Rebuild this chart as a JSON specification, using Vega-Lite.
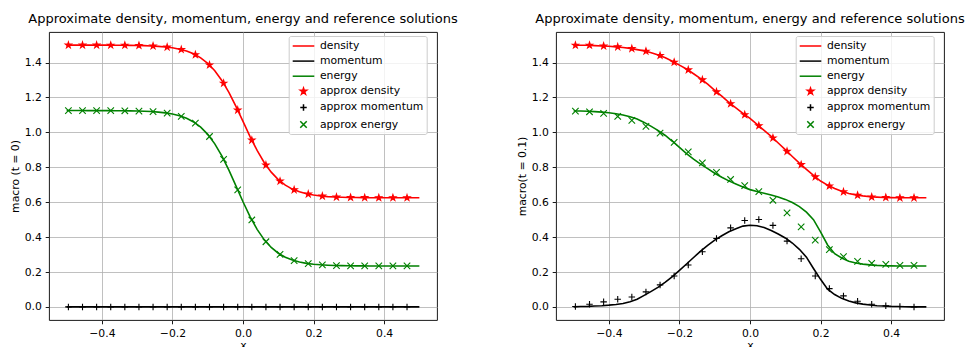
{
  "$schema": "https://vega.github.io/schema/vega-lite/v6.json",
  "background": "white",
  "padding": {"left": 8, "top": 12, "right": 0, "bottom": 0},
  "config": {
    "font": "DejaVu Sans",
    "view": {"stroke": "#000000", "strokeWidth": 0.9},
    "axis": {"grid": true, "gridColor": "#b0b0b0", "gridWidth": 0.8, "domain": false, "tickColor": "#000000", "tickSize": 3.8, "tickWidth": 0.9, "labelFontSize": 10.8, "labelColor": "#000000", "labelPadding": 3.8, "labelFont": "DejaVu Sans", "titleFont": "DejaVu Sans", "titleFontSize": 10.8, "titleFontWeight": "normal", "titleColor": "#000000"},
    "axisX": {"titlePadding": 1.5},
    "axisY": {"titlePadding": 4},
    "title": {"font": "DejaVu Sans", "fontSize": 13, "fontWeight": "normal", "color": "#000000", "baseline": "alphabetic", "offset": 6.5, "anchor": "middle"},
    "legend": {"orient": "none", "legendX": 239.7, "legendY": 4, "title": null, "labelFont": "DejaVu Sans", "labelFontSize": 10.8, "labelColor": "#000000", "symbolSize": 144, "symbolStrokeWidth": 1.5, "fillColor": "rgba(255,255,255,0.8)", "strokeColor": "#cccccc", "cornerRadius": 2, "padding": 3, "rowPadding": 3.1, "symbolOffset": 4.8, "labelOffset": 9.4}
  },
  "datasets": {
    "lines0": [
      {"x": -0.5, "density": 1.5, "momentum": 0, "energy": 1.125},
      {"x": -0.48, "density": 1.5, "momentum": 0, "energy": 1.125},
      {"x": -0.46, "density": 1.5, "momentum": 0, "energy": 1.125},
      {"x": -0.44, "density": 1.5, "momentum": 0, "energy": 1.1248},
      {"x": -0.42, "density": 1.4999, "momentum": 0, "energy": 1.1247},
      {"x": -0.4, "density": 1.4997, "momentum": 0, "energy": 1.1247},
      {"x": -0.38, "density": 1.4996, "momentum": 0, "energy": 1.1245},
      {"x": -0.36, "density": 1.4993, "momentum": 0, "energy": 1.1242},
      {"x": -0.34, "density": 1.499, "momentum": 0, "energy": 1.1239},
      {"x": -0.32, "density": 1.4986, "momentum": 0, "energy": 1.1233},
      {"x": -0.3, "density": 1.4979, "momentum": 0, "energy": 1.1224},
      {"x": -0.28, "density": 1.4968, "momentum": 0, "energy": 1.1211},
      {"x": -0.26, "density": 1.4952, "momentum": 0, "energy": 1.1191},
      {"x": -0.24, "density": 1.4929, "momentum": 0, "energy": 1.1161},
      {"x": -0.22, "density": 1.4894, "momentum": 0, "energy": 1.1116},
      {"x": -0.2, "density": 1.4843, "momentum": 0, "energy": 1.105},
      {"x": -0.18, "density": 1.4767, "momentum": 0, "energy": 1.0951},
      {"x": -0.16, "density": 1.4657, "momentum": 0, "energy": 1.0807},
      {"x": -0.14, "density": 1.4499, "momentum": 0, "energy": 1.0596},
      {"x": -0.12, "density": 1.4272, "momentum": 0, "energy": 1.0299},
      {"x": -0.1, "density": 1.3957, "momentum": 0, "energy": 0.9888},
      {"x": -0.08, "density": 1.353, "momentum": 0, "energy": 0.934},
      {"x": -0.06, "density": 1.2974, "momentum": 0, "energy": 0.8649},
      {"x": -0.04, "density": 1.2287, "momentum": 0, "energy": 0.7833},
      {"x": -0.02, "density": 1.1489, "momentum": 0, "energy": 0.6935},
      {"x": 0, "density": 1.0625, "momentum": 0, "energy": 0.6026},
      {"x": 0.02, "density": 0.9761, "momentum": 0, "energy": 0.5178},
      {"x": 0.04, "density": 0.8963, "momentum": 0, "energy": 0.4444},
      {"x": 0.06, "density": 0.8276, "momentum": 0, "energy": 0.3855},
      {"x": 0.08, "density": 0.772, "momentum": 0, "energy": 0.3406},
      {"x": 0.1, "density": 0.7293, "momentum": 0, "energy": 0.3076},
      {"x": 0.12, "density": 0.6978, "momentum": 0, "energy": 0.2843},
      {"x": 0.14, "density": 0.6751, "momentum": 0, "energy": 0.2682},
      {"x": 0.16, "density": 0.6593, "momentum": 0, "energy": 0.257},
      {"x": 0.18, "density": 0.6483, "momentum": 0, "energy": 0.2494},
      {"x": 0.2, "density": 0.6407, "momentum": 0, "energy": 0.2444},
      {"x": 0.22, "density": 0.6356, "momentum": 0, "energy": 0.2411},
      {"x": 0.24, "density": 0.6321, "momentum": 0, "energy": 0.2389},
      {"x": 0.26, "density": 0.6298, "momentum": 0, "energy": 0.2374},
      {"x": 0.28, "density": 0.6282, "momentum": 0, "energy": 0.2364},
      {"x": 0.3, "density": 0.6271, "momentum": 0, "energy": 0.2357},
      {"x": 0.32, "density": 0.6264, "momentum": 0, "energy": 0.2353},
      {"x": 0.34, "density": 0.626, "momentum": 0, "energy": 0.235},
      {"x": 0.36, "density": 0.6257, "momentum": 0, "energy": 0.2348},
      {"x": 0.38, "density": 0.6254, "momentum": 0, "energy": 0.2347},
      {"x": 0.4, "density": 0.6253, "momentum": 0, "energy": 0.2347},
      {"x": 0.42, "density": 0.6251, "momentum": 0, "energy": 0.2347},
      {"x": 0.44, "density": 0.625, "momentum": 0, "energy": 0.2347},
      {"x": 0.46, "density": 0.625, "momentum": 0, "energy": 0.2347},
      {"x": 0.48, "density": 0.625, "momentum": 0, "energy": 0.2347},
      {"x": 0.5, "density": 0.625, "momentum": 0, "energy": 0.2347}
    ],
    "points0": [
      {"x": -0.495, "approx density": 1.5, "approx momentum": 0, "approx energy": 1.125},
      {"x": -0.455, "approx density": 1.4999, "approx momentum": 0, "approx energy": 1.1249},
      {"x": -0.415, "approx density": 1.4998, "approx momentum": 0, "approx energy": 1.1247},
      {"x": -0.375, "approx density": 1.4995, "approx momentum": 0, "approx energy": 1.1244},
      {"x": -0.335, "approx density": 1.4989, "approx momentum": 0, "approx energy": 1.1237},
      {"x": -0.295, "approx density": 1.4976, "approx momentum": 0, "approx energy": 1.1222},
      {"x": -0.255, "approx density": 1.4947, "approx momentum": 0, "approx energy": 1.1185},
      {"x": -0.215, "approx density": 1.4883, "approx momentum": 0, "approx energy": 1.1103},
      {"x": -0.175, "approx density": 1.4744, "approx momentum": 0, "approx energy": 1.0921},
      {"x": -0.135, "approx density": 1.4449, "approx momentum": 0, "approx energy": 1.0529},
      {"x": -0.095, "approx density": 1.3862, "approx momentum": 0, "approx energy": 0.9763},
      {"x": -0.055, "approx density": 1.2815, "approx momentum": 0, "approx energy": 0.8458},
      {"x": -0.015, "approx density": 1.1276, "approx momentum": 0, "approx energy": 0.6703},
      {"x": 0.025, "approx density": 0.9554, "approx momentum": 0, "approx energy": 0.498},
      {"x": 0.065, "approx density": 0.8124, "approx momentum": 0, "approx energy": 0.3733},
      {"x": 0.105, "approx density": 0.7205, "approx momentum": 0, "approx energy": 0.3012},
      {"x": 0.145, "approx density": 0.6707, "approx momentum": 0, "approx energy": 0.2647},
      {"x": 0.185, "approx density": 0.6461, "approx momentum": 0, "approx energy": 0.2482},
      {"x": 0.225, "approx density": 0.6346, "approx momentum": 0, "approx energy": 0.2406},
      {"x": 0.265, "approx density": 0.6293, "approx momentum": 0, "approx energy": 0.2371},
      {"x": 0.305, "approx density": 0.627, "approx momentum": 0, "approx energy": 0.2356},
      {"x": 0.345, "approx density": 0.6259, "approx momentum": 0, "approx energy": 0.235},
      {"x": 0.385, "approx density": 0.6254, "approx momentum": 0, "approx energy": 0.2348},
      {"x": 0.425, "approx density": 0.6252, "approx momentum": 0, "approx energy": 0.2347},
      {"x": 0.465, "approx density": 0.6251, "approx momentum": 0, "approx energy": 0.2347}
    ],
    "lines1": [
      {"x": -0.5, "density": 1.5, "momentum": 0, "energy": 1.122},
      {"x": -0.48, "density": 1.499, "momentum": 0.002, "energy": 1.122},
      {"x": -0.46, "density": 1.499, "momentum": 0.003, "energy": 1.121},
      {"x": -0.44, "density": 1.497, "momentum": 0.005, "energy": 1.119},
      {"x": -0.42, "density": 1.495, "momentum": 0.007, "energy": 1.116},
      {"x": -0.4, "density": 1.493, "momentum": 0.01, "energy": 1.112},
      {"x": -0.38, "density": 1.49, "momentum": 0.014, "energy": 1.107},
      {"x": -0.36, "density": 1.486, "momentum": 0.02, "energy": 1.099},
      {"x": -0.34, "density": 1.481, "momentum": 0.03, "energy": 1.089},
      {"x": -0.32, "density": 1.474, "momentum": 0.044, "energy": 1.076},
      {"x": -0.3, "density": 1.467, "momentum": 0.066, "energy": 1.057},
      {"x": -0.28, "density": 1.456, "momentum": 0.089, "energy": 1.034},
      {"x": -0.26, "density": 1.443, "momentum": 0.113, "energy": 1.01},
      {"x": -0.24, "density": 1.427, "momentum": 0.142, "energy": 0.982},
      {"x": -0.22, "density": 1.407, "momentum": 0.173, "energy": 0.949},
      {"x": -0.2, "density": 1.385, "momentum": 0.209, "energy": 0.914},
      {"x": -0.18, "density": 1.363, "momentum": 0.246, "energy": 0.878},
      {"x": -0.16, "density": 1.336, "momentum": 0.283, "energy": 0.847},
      {"x": -0.14, "density": 1.308, "momentum": 0.319, "energy": 0.818},
      {"x": -0.12, "density": 1.276, "momentum": 0.352, "energy": 0.792},
      {"x": -0.1, "density": 1.241, "momentum": 0.383, "energy": 0.766},
      {"x": -0.08, "density": 1.207, "momentum": 0.408, "energy": 0.743},
      {"x": -0.06, "density": 1.172, "momentum": 0.431, "energy": 0.722},
      {"x": -0.04, "density": 1.14, "momentum": 0.448, "energy": 0.704},
      {"x": -0.02, "density": 1.109, "momentum": 0.463, "energy": 0.687},
      {"x": 0, "density": 1.08, "momentum": 0.468, "energy": 0.672},
      {"x": 0.02, "density": 1.046, "momentum": 0.465, "energy": 0.661},
      {"x": 0.04, "density": 1.012, "momentum": 0.455, "energy": 0.651},
      {"x": 0.06, "density": 0.977, "momentum": 0.438, "energy": 0.641},
      {"x": 0.08, "density": 0.939, "momentum": 0.418, "energy": 0.63},
      {"x": 0.1, "density": 0.901, "momentum": 0.395, "energy": 0.616},
      {"x": 0.12, "density": 0.862, "momentum": 0.366, "energy": 0.598},
      {"x": 0.14, "density": 0.824, "momentum": 0.33, "energy": 0.575},
      {"x": 0.16, "density": 0.788, "momentum": 0.285, "energy": 0.543},
      {"x": 0.18, "density": 0.753, "momentum": 0.22, "energy": 0.5},
      {"x": 0.2, "density": 0.721, "momentum": 0.158, "energy": 0.43},
      {"x": 0.22, "density": 0.698, "momentum": 0.102, "energy": 0.355},
      {"x": 0.24, "density": 0.678, "momentum": 0.071, "energy": 0.305},
      {"x": 0.26, "density": 0.662, "momentum": 0.049, "energy": 0.28},
      {"x": 0.28, "density": 0.65, "momentum": 0.034, "energy": 0.262},
      {"x": 0.3, "density": 0.642, "momentum": 0.023, "energy": 0.252},
      {"x": 0.32, "density": 0.636, "momentum": 0.016, "energy": 0.245},
      {"x": 0.34, "density": 0.631, "momentum": 0.011, "energy": 0.241},
      {"x": 0.36, "density": 0.629, "momentum": 0.007, "energy": 0.238},
      {"x": 0.38, "density": 0.627, "momentum": 0.005, "energy": 0.236},
      {"x": 0.4, "density": 0.626, "momentum": 0.003, "energy": 0.235},
      {"x": 0.42, "density": 0.625, "momentum": 0.002, "energy": 0.234},
      {"x": 0.44, "density": 0.625, "momentum": 0.001, "energy": 0.234},
      {"x": 0.46, "density": 0.625, "momentum": 0, "energy": 0.234},
      {"x": 0.48, "density": 0.625, "momentum": 0, "energy": 0.234},
      {"x": 0.5, "density": 0.625, "momentum": 0, "energy": 0.234}
    ],
    "points1": [
      {"x": -0.495, "approx density": 1.499, "approx momentum": 0.002, "approx energy": 1.122},
      {"x": -0.455, "approx density": 1.499, "approx momentum": 0.015, "approx energy": 1.118},
      {"x": -0.415, "approx density": 1.495, "approx momentum": 0.029, "approx energy": 1.109},
      {"x": -0.375, "approx density": 1.49, "approx momentum": 0.044, "approx energy": 1.091},
      {"x": -0.335, "approx density": 1.48, "approx momentum": 0.057, "approx energy": 1.069},
      {"x": -0.295, "approx density": 1.465, "approx momentum": 0.086, "approx energy": 1.034},
      {"x": -0.255, "approx density": 1.44, "approx momentum": 0.126, "approx energy": 0.996},
      {"x": -0.215, "approx density": 1.402, "approx momentum": 0.177, "approx energy": 0.943},
      {"x": -0.175, "approx density": 1.358, "approx momentum": 0.24, "approx energy": 0.888},
      {"x": -0.135, "approx density": 1.301, "approx momentum": 0.316, "approx energy": 0.825},
      {"x": -0.095, "approx density": 1.232, "approx momentum": 0.392, "approx energy": 0.771},
      {"x": -0.055, "approx density": 1.164, "approx momentum": 0.453, "approx energy": 0.73},
      {"x": -0.015, "approx density": 1.101, "approx momentum": 0.495, "approx energy": 0.695},
      {"x": 0.025, "approx density": 1.038, "approx momentum": 0.501, "approx energy": 0.661},
      {"x": 0.065, "approx density": 0.968, "approx momentum": 0.467, "approx energy": 0.611},
      {"x": 0.105, "approx density": 0.891, "approx momentum": 0.377, "approx energy": 0.539},
      {"x": 0.145, "approx density": 0.815, "approx momentum": 0.276, "approx energy": 0.459},
      {"x": 0.185, "approx density": 0.745, "approx momentum": 0.177, "approx energy": 0.383},
      {"x": 0.225, "approx density": 0.693, "approx momentum": 0.105, "approx energy": 0.328},
      {"x": 0.265, "approx density": 0.659, "approx momentum": 0.063, "approx energy": 0.288},
      {"x": 0.305, "approx density": 0.64, "approx momentum": 0.032, "approx energy": 0.261},
      {"x": 0.345, "approx density": 0.63, "approx momentum": 0.015, "approx energy": 0.25},
      {"x": 0.385, "approx density": 0.627, "approx momentum": 0.006, "approx energy": 0.244},
      {"x": 0.425, "approx density": 0.625, "approx momentum": 0.002, "approx energy": 0.238},
      {"x": 0.465, "approx density": 0.625, "approx momentum": 0, "approx energy": 0.238}
    ]
  },
  "bounds": "flush",
  "spacing": 119,
  "resolve": {"legend": {"stroke": "independent", "fill": "independent", "shape": "independent"}},
  "hconcat": [
    {
      "width": 388,
      "height": 288,
      "title": "Approximate density, momentum, energy and reference solutions",
      "layer": [
        {
          "data": {"name": "lines0"},
          "transform": [{"fold": ["density", "momentum", "energy"], "as": ["series", "y"]}],
          "mark": {"type": "line", "strokeWidth": 1.6},
          "encoding": {
            "x": {"field": "x", "type": "quantitative", "scale": {"domain": [-0.55, 0.55], "nice": false, "zero": false}, "axis": {"values": [-0.4, -0.2, 0, 0.2, 0.4], "format": ".1f", "title": "x"}},
            "y": {"field": "y", "type": "quantitative", "scale": {"domain": [-0.075, 1.575], "nice": false, "zero": false}, "axis": {"values": [0, 0.2, 0.4, 0.6, 0.8, 1.0, 1.2, 1.4], "format": ".1f", "title": "macro (t = 0)"}},
            "stroke": {"field": "series", "type": "nominal", "scale": {"domain": ["density", "momentum", "energy", "approx density", "approx momentum", "approx energy"], "range": ["#ff0000", "#000000", "#008000", "#ff0000", "#000000", "#008000"]}, "legend": {"title": null}}
          }
        },
        {
          "data": {"name": "points0"},
          "transform": [{"fold": ["approx density", "approx momentum", "approx energy"], "as": ["series", "y"]}],
          "mark": {"type": "point", "size": 144, "strokeWidth": 1.1, "opacity": 1},
          "encoding": {
            "x": {"field": "x", "type": "quantitative"},
            "y": {"field": "y", "type": "quantitative"},
            "stroke": {"field": "series", "type": "nominal", "legend": {"title": null}},
            "fill": {"field": "series", "type": "nominal", "scale": {"domain": ["density", "momentum", "energy", "approx density", "approx momentum", "approx energy"], "range": ["transparent", "transparent", "transparent", "#ff0000", "transparent", "transparent"]}, "legend": {"title": null}},
            "shape": {"field": "series", "type": "nominal", "scale": {"domain": ["density", "momentum", "energy", "approx density", "approx momentum", "approx energy"], "range": ["M-1.8,0H1.8", "M-1.8,0H1.8", "M-1.8,0H1.8", "M0,-0.54L0.1213,-0.1669L0.5136,-0.1669L0.1962,0.0637L0.3174,0.4369L0,0.2063L-0.3174,0.4369L-0.1962,0.0637L-0.5136,-0.1669L-0.1213,-0.1669Z", "M-0.54,0H0.54M0,-0.54V0.54", "M-0.54,-0.54L0.54,0.54M-0.54,0.54L0.54,-0.54"]}, "legend": {"title": null}}
          }
        }
      ]
    },
    {
      "width": 388,
      "height": 288,
      "title": "Approximate density, momentum, energy and reference solutions",
      "layer": [
        {
          "data": {"name": "lines1"},
          "transform": [{"fold": ["density", "momentum", "energy"], "as": ["series", "y"]}],
          "mark": {"type": "line", "strokeWidth": 1.6},
          "encoding": {
            "x": {"field": "x", "type": "quantitative", "scale": {"domain": [-0.55, 0.55], "nice": false, "zero": false}, "axis": {"values": [-0.4, -0.2, 0, 0.2, 0.4], "format": ".1f", "title": "x"}},
            "y": {"field": "y", "type": "quantitative", "scale": {"domain": [-0.075, 1.575], "nice": false, "zero": false}, "axis": {"values": [0, 0.2, 0.4, 0.6, 0.8, 1.0, 1.2, 1.4], "format": ".1f", "title": "macro(t = 0.1)"}},
            "stroke": {"field": "series", "type": "nominal", "scale": {"domain": ["density", "momentum", "energy", "approx density", "approx momentum", "approx energy"], "range": ["#ff0000", "#000000", "#008000", "#ff0000", "#000000", "#008000"]}, "legend": {"title": null}}
          }
        },
        {
          "data": {"name": "points1"},
          "transform": [{"fold": ["approx density", "approx momentum", "approx energy"], "as": ["series", "y"]}],
          "mark": {"type": "point", "size": 144, "strokeWidth": 1.1, "opacity": 1},
          "encoding": {
            "x": {"field": "x", "type": "quantitative"},
            "y": {"field": "y", "type": "quantitative"},
            "stroke": {"field": "series", "type": "nominal", "legend": {"title": null}},
            "fill": {"field": "series", "type": "nominal", "scale": {"domain": ["density", "momentum", "energy", "approx density", "approx momentum", "approx energy"], "range": ["transparent", "transparent", "transparent", "#ff0000", "transparent", "transparent"]}, "legend": {"title": null}},
            "shape": {"field": "series", "type": "nominal", "scale": {"domain": ["density", "momentum", "energy", "approx density", "approx momentum", "approx energy"], "range": ["M-1.8,0H1.8", "M-1.8,0H1.8", "M-1.8,0H1.8", "M0,-0.54L0.1213,-0.1669L0.5136,-0.1669L0.1962,0.0637L0.3174,0.4369L0,0.2063L-0.3174,0.4369L-0.1962,0.0637L-0.5136,-0.1669L-0.1213,-0.1669Z", "M-0.54,0H0.54M0,-0.54V0.54", "M-0.54,-0.54L0.54,0.54M-0.54,0.54L0.54,-0.54"]}, "legend": {"title": null}}
          }
        }
      ]
    }
  ]
}
